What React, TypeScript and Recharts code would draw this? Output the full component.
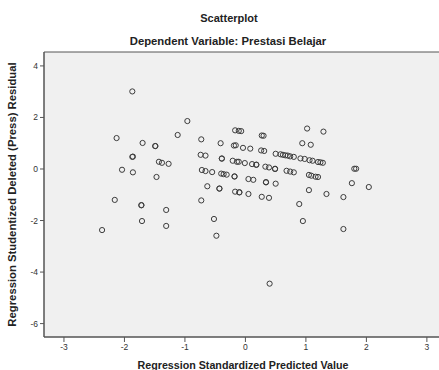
import {
  ReferenceArea,
  Scatter,
  ScatterChart,
  XAxis,
  YAxis,
} from "recharts";

// Regression standardized predicted value (x) and studentized deleted residual (y),
// read off the SPSS plot. Bold-looking circles are kept as two overlapping cases.
const predicted = [
  -1.87, -0.96, -1.12, -2.13, -1.7, -1.49, -1.49, -0.73, -0.41, -0.17, -0.11, -0.07,
  0.27, 0.3, 1.02, 1.29, 0.94, 1.08, -1.87, -1.86, -1.43, -1.38, -1.27, -0.74, -0.66,
  -0.39, -0.39, -0.19, -0.16, -0.04, 0.08, 0.26, 0.31,
  0.5, 0.58, 0.62, 0.66, 0.7, 0.74, 0.8, 0.91, 0.98, 1.06, 1.11, 1.2, 1.24, 1.28,
  -0.21, -0.14, -0.11, -0.01, 0.11, 0.18, 0.18, 0.33, 0.39, 0.49, 0.49,
  -2.04, -1.86, -1.47,
  -0.72, -0.66, -0.55, -0.4, -0.36, -0.31, -0.18, -0.18,
  0.05, 0.13, 0.34, 0.34, 0.5, 0.68, 0.74, 0.8, 1.05, 1.09, 1.16, 1.2,
  1.8, 1.83, 1.76, 2.04, 1.05, 1.34, 1.62,
  -0.63, -0.43, -0.43, -0.17, -0.1, -0.1, 0.05, 0.27, 0.39, 0.89,
  -2.16, -0.73, -1.72, -1.72, -1.31, -1.71, -1.31, -2.37, -0.52, -0.48, 0.95, 1.62,
  0.4,
];
const residual = [
  3.01, 1.86, 1.32, 1.2, 1.01, 0.89, 0.89, 1.15, 1.0, 1.5, 1.48, 1.47,
  1.3, 1.29, 1.57, 1.45, 1.0, 0.94, 0.47, 0.48, 0.28, 0.24, 0.2, 0.55, 0.52,
  0.4, 0.41, 0.91, 0.92, 0.82, 0.79, 0.72, 0.7,
  0.59, 0.57, 0.55, 0.53, 0.52, 0.49, 0.47, 0.41, 0.39, 0.34, 0.32, 0.27, 0.26, 0.24,
  0.32, 0.28, 0.28, 0.23, 0.19, 0.17, 0.16, 0.09, 0.06, 0.0, 0.01,
  -0.03, -0.13, -0.31,
  -0.04, -0.08, -0.12, -0.18, -0.2, -0.22, -0.29, -0.29,
  -0.39, -0.42, -0.51, -0.52, -0.57, -0.07, -0.1, -0.13, -0.23, -0.26, -0.3, -0.31,
  0.01, 0.01, -0.55, -0.7, -0.82, -0.97, -1.09,
  -0.67, -0.76, -0.76, -0.88, -0.9, -0.91, -0.97, -1.08, -1.12, -1.36,
  -1.2, -1.22, -1.4, -1.41, -1.59, -2.02, -2.21, -2.37, -1.94, -2.59, -2.02, -2.33,
  -4.45,
];

const xTicks = [-3, -2, -1, 0, 1, 2, 3];
const yTicks = [-6, -4, -2, 0, 2, 4];

const X_DOMAIN: [number, number] = [-3.33, 3.25];
const Y_DOMAIN: [number, number] = [-6.52, 4.54];

const FONT = "'Liberation Sans', Arial, sans-serif";
const INK = "#3c3c3c";

const points = predicted.map((x, i) => ({ x, y: residual[i] }));

function OpenCircle(props: { cx?: number; cy?: number }) {
  const { cx, cy } = props;
  if (cx == null || cy == null) return null;
  return <circle cx={cx} cy={cy} r={2.6} fill="none" stroke={INK} strokeWidth={1} />;
}

export default function App() {
  const tickStyle = { fontSize: 8.5, fill: "#333", fontFamily: FONT };
  return (
    <div style={{ position: "absolute", left: 0, top: 0, width: 450, height: 370, fontFamily: FONT }}>
      <div
        style={{
          position: "absolute",
          left: 0,
          width: 458,
          top: 12,
          textAlign: "center",
          fontSize: 11,
          fontWeight: "bold",
          color: "#222",
        }}
      >
        Scatterplot
      </div>
      <div
        style={{
          position: "absolute",
          left: 0,
          width: 456,
          top: 35,
          textAlign: "center",
          fontSize: 11.3,
          fontWeight: "bold",
          color: "#222",
        }}
      >
        Dependent Variable: Prestasi Belajar
      </div>
      <ScatterChart
        width={450}
        height={370}
        margin={{ top: 52, right: 8, bottom: 0, left: 0 }}
      >
        <ReferenceArea
          x1={X_DOMAIN[0]}
          x2={X_DOMAIN[1]}
          y1={Y_DOMAIN[0]}
          y2={Y_DOMAIN[1]}
          fill="#f0f0f0"
          fillOpacity={1}
          stroke="#555"
          strokeWidth={1}
        />
        <XAxis
          type="number"
          dataKey="x"
          domain={X_DOMAIN}
          ticks={xTicks}
          allowDataOverflow
          height={33}
          tickSize={5}
          axisLine={{ stroke: "#555" }}
          tickLine={{ stroke: "#555" }}
          tick={tickStyle}
          label={{
            value: "Regression Standardized Predicted Value",
            position: "insideBottom",
            offset: 1,
            style: { fontSize: 10.7, fontWeight: "bold", fill: "#222", fontFamily: FONT },
          }}
        />
        <YAxis
          type="number"
          dataKey="y"
          domain={Y_DOMAIN}
          ticks={yTicks}
          allowDataOverflow
          width={44}
          tickSize={4}
          axisLine={{ stroke: "#555" }}
          tickLine={{ stroke: "#555" }}
          tick={tickStyle}
          label={{
            value: "Regression Studentized Deleted (Press) Residual",
            angle: -90,
            position: "insideLeft",
            offset: 12,
            style: { textAnchor: "middle", fontSize: 11.3, fontWeight: "bold", fill: "#222", fontFamily: FONT },
          }}
        />
        <Scatter data={points} shape={<OpenCircle />} isAnimationActive={false} />
      </ScatterChart>
    </div>
  );
}
